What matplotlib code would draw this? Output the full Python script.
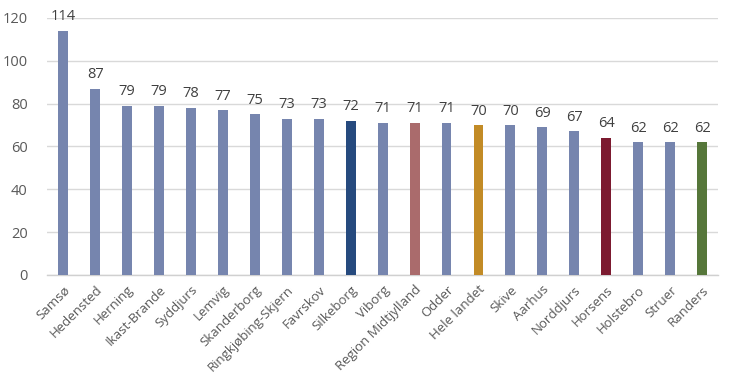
import matplotlib.pyplot as plt
import matplotlib.transforms as mtransforms

plt.rcParams['font.family'] = ['Open Sans', 'DejaVu Sans']

kommuner = ['Samsø', 'Hedensted', 'Herning', 'Ikast-Brande', 'Syddjurs', 'Lemvig',
            'Skanderborg', 'Ringkjøbing-Skjern', 'Favrskov', 'Silkeborg', 'Viborg',
            'Region Midtjylland', 'Odder', 'Hele landet', 'Skive', 'Aarhus',
            'Norddjurs', 'Horsens', 'Holstebro', 'Struer', 'Randers']
vaerdier = [114, 87, 79, 79, 78, 77, 75, 73, 73, 72, 71, 71, 71, 70, 70, 69, 67, 64, 62, 62, 62]

base = '#7685AE'
saerlige = {'Silkeborg': '#264A7E', 'Region Midtjylland': '#AA6B6C',
            'Hele landet': '#C28B26', 'Horsens': '#7C1A30', 'Randers': '#56773A'}
farver = [saerlige.get(k, base) for k in kommuner]

fig = plt.figure(figsize=(7.38, 3.91), dpi=100)
ax = fig.add_axes([0.064, 0.297, 0.909, 0.657])

x = range(len(kommuner))
ax.bar(x, vaerdier, width=0.31, color=farver, zorder=3)

for i, v in enumerate(vaerdier):
    ax.text(i, v + 3, str(v), ha='center', va='bottom', fontsize=10.5,
            color='#404040', clip_on=False)

ax.set_xlim(-0.5, len(kommuner) - 0.5)
ax.set_ylim(0, 120)
ax.set_yticks(range(0, 121, 20))
ax.yaxis.grid(True, color='#D9D9D9', linewidth=1, zorder=0)

for s in ['top', 'right', 'left']:
    ax.spines[s].set_visible(False)
ax.spines['bottom'].set_color('#D0D0D0')
ax.spines['bottom'].set_linewidth(1)

ax.set_xticks(list(x))
ax.set_xticklabels(kommuner, rotation=45, ha='right', rotation_mode='anchor',
                   fontsize=9.5, color='#595959')
offset = mtransforms.ScaledTranslation(5 / 100, 0, fig.dpi_scale_trans)
for lbl in ax.get_xticklabels():
    lbl.set_transform(lbl.get_transform() + offset)
ax.tick_params(axis='x', length=0, pad=6)
ax.tick_params(axis='y', length=0, pad=14, labelsize=10.5, labelcolor='#595959')

fig.savefig('out.png', dpi=100)
